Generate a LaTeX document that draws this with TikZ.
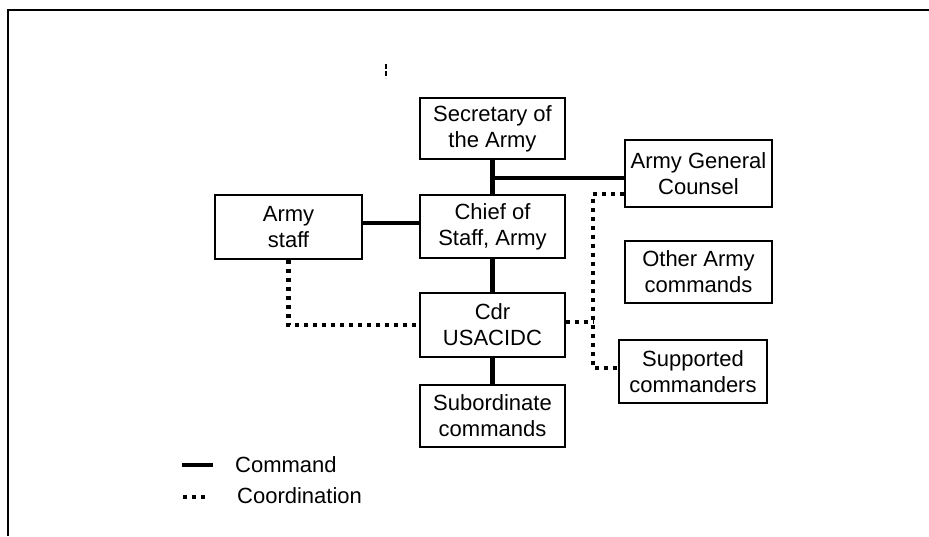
\documentclass[tikz,border=0pt]{standalone}
\usepackage{fontspec}
\setmainfont{Liberation Sans}
\begin{document}
\begin{tikzpicture}[x=1pt,y=-1pt,
  orgbox/.style={draw, line width=1.4pt, align=center, inner sep=0pt,
    font=\fontsize{22}{26}\selectfont},
  cmdline/.style={line width=4.5pt},
  coordline/.style={line width=4.5pt, dash pattern=on 4pt off 5pt},
  legtext/.style={anchor=west, inner sep=0pt, font=\fontsize{22}{26}\selectfont}]
\useasboundingbox (0,0) rectangle (929,536);
% frame
\draw[line width=2pt] (929,10) -- (8,10) -- (8,536);
% stray scan mark
\draw[line width=1.2pt, dash pattern=on 5pt off 2pt] (386,64) -- (386,78);
% boxes
\node[orgbox, minimum width=145, minimum height=61] (sec) at (492.5,128.5) {Secretary of\\the Army};
\node[orgbox, minimum width=145, minimum height=63] (cos) at (492.5,226.5) {Chief of\\Staff, Army};
\node[orgbox, minimum width=147, minimum height=64] (staff) at (288.5,227) {Army\\staff};
\node[orgbox, minimum width=145, minimum height=64] (cdr) at (492.5,325) {Cdr\\USACIDC};
\node[orgbox, minimum width=145, minimum height=62] (sub) at (492.5,416) {Subordinate\\commands};
\node[orgbox, minimum width=147, minimum height=67] (agc) at (698.5,173.5) {Army General\\Counsel};
\node[orgbox, minimum width=147, minimum height=62] (oac) at (698.5,272) {Other Army\\commands};
\node[orgbox, minimum width=148, minimum height=63] (sup) at (693,371.5) {Supported\\commanders};
% command lines
\coordinate (j1) at (492.5,178);
\draw[cmdline] (sec.south) -- (cos.north);
\draw[cmdline] (j1) -- (j1 -| agc.west);
\draw[cmdline] (staff.east |- 0,223) -- (cos.west |- 0,223);
\draw[cmdline] (cos.south) -- (cdr.north);
\draw[cmdline] (cdr.south) -- (sub.north);
% coordination lines
\coordinate (c1) at (593,194);
\coordinate (c2) at (593,368);
\draw[coordline] (staff.south) |- (cdr.west);
\draw[coordline] (c1 -| agc.west) -- (c1) -- (c2) -- (c2 -| sup.west);
\draw[coordline] (cdr.east |- 0,322) -- (c1 |- 0,322);
% legend
\coordinate (l1a) at (182,465);
\coordinate (l1b) at (213,465);
\coordinate (l2a) at (183,497);
\coordinate (l2b) at (209,497);
\draw[cmdline] (l1a) -- (l1b);
\draw[coordline] (l2a) -- (l2b);
\node[legtext] (lcmd) at (235,465) {Command};
\node[legtext] (lcoord) at (237,496) {Coordination};
\end{tikzpicture}
\end{document}
